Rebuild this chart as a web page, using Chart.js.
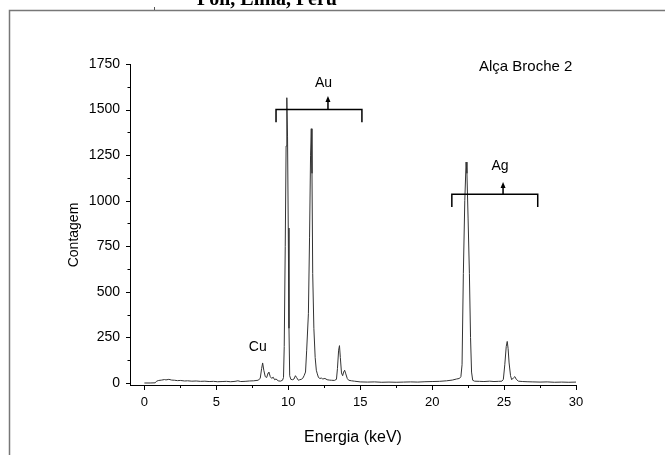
<!DOCTYPE html>
<html>
<head>
<meta charset="utf-8">
<script src="https://cdn.jsdelivr.net/npm/chart.js@4.4.1/dist/chart.umd.min.js"></script>
<style>
  html, body { margin: 0; padding: 0; background: #fff; }
  #wrap { width: 665px; height: 455px; position: relative; }
</style>
</head>
<body>
<div id="wrap"><canvas id="spectrum" width="665" height="455"></canvas></div>
<script>
// Spectrum: energy (keV) and counts
const energy = [
  0.0, 0.4, 0.75, 0.85, 1.0, 1.2, 1.4, 1.5, 1.7, 1.9, 2.1, 2.3, 2.5, 2.8, 3.0, 3.3, 3.6, 3.9, 4.2, 4.5,
  4.8, 5.1, 5.4, 5.7, 6.0, 6.3, 6.5, 6.7, 7.0, 7.3, 7.6, 7.9, 8.05, 8.15, 8.22, 8.3, 8.4, 8.5, 8.6, 8.65,
  8.75, 8.85, 8.95, 9.05, 9.15, 9.3, 9.45, 9.6, 9.67, 9.72, 9.79, 9.85, 9.9, 9.95, 10.0, 10.05, 10.1, 10.18,
  10.3, 10.4, 10.5, 10.58, 10.7, 10.8, 10.9, 11.0, 11.1, 11.2, 11.28, 11.4, 11.48, 11.55, 11.6, 11.65, 11.7,
  11.78, 11.87, 11.95, 12.02, 12.1, 12.2, 12.3, 12.4, 12.55, 12.7, 12.85, 13.0, 13.2, 13.35, 13.42, 13.5,
  13.56, 13.62, 13.7, 13.78, 13.85, 13.92, 14.0, 14.1, 14.2, 14.4, 14.6, 15.0, 15.5, 16.0, 16.5, 17.0, 17.5,
  18.0, 18.5, 19.0, 19.5, 20.0, 20.5, 21.0, 21.4, 21.7, 21.9, 22.0, 22.08, 22.17, 22.27, 22.36, 22.42, 22.5,
  22.59, 22.67, 22.74, 22.82, 22.95, 23.3, 23.6, 24.0, 24.3, 24.6, 24.85, 24.95, 25.05, 25.15, 25.22, 25.28,
  25.35, 25.45, 25.53, 25.65, 25.75, 25.85, 26.0, 26.3, 26.6, 27.0, 27.5, 28.0, 28.5, 29.0, 29.5, 30.0
];
const counts = [
  0, 0, 1, 10, 14, 16, 19, 17, 20, 16, 15, 13, 14, 11, 12, 10, 11, 9, 10, 8,
  9, 7, 8, 9, 7, 9, 12, 8, 9, 11, 12, 15, 25, 80, 110, 70, 35, 30, 55, 60,
  35, 25, 32, 18, 22, 12, 10, 15, 30, 200, 750, 1300, 1565, 1350, 850, 300, 40, 20,
  18, 22, 40, 30, 15, 18, 20, 25, 40, 60, 180, 380, 800, 1250, 1395, 1150, 600,
  300, 140, 70, 50, 30, 25, 27, 22, 25, 18, 16, 15, 14, 20, 80, 180,
  205, 140, 55, 40, 60, 70, 50, 25, 15, 12, 10, 6, 5, 6, 4, 5, 4,
  5, 6, 5, 7, 8, 9, 12, 16, 22, 25, 35, 100, 600, 1000, 1212, 1150, 900,
  600, 250, 60, 15, 10, 9, 8, 10, 8, 9, 10, 20, 100, 200, 228, 190,
  110, 40, 18, 28, 35, 20, 10, 8, 7, 6, 5, 6, 4, 5, 4, 5
];
const xTickValues = [0, 2.5, 5, 7.5, 10, 12.5, 15, 17.5, 20, 22.5, 25, 27.5, 30];
const yTickValues = [0, 125, 250, 375, 500, 625, 750, 875, 1000, 1125, 1250, 1375, 1500, 1625, 1750];

// tick marks: long for labelled, short for minor
const tickMarks = {
  id: 'tickMarks',
  afterDraw(chart) {
    const { ctx, scales: { x, y } } = chart;
    ctx.save();
    ctx.strokeStyle = '#000';
    ctx.lineWidth = 1;
    ctx.beginPath();
    xTickValues.forEach((v) => {
      const px = Math.round(x.getPixelForValue(v)) + 0.5;
      const len = v % 5 === 0 ? 5 : 3;
      ctx.moveTo(px, x.top);
      ctx.lineTo(px, x.top + len);
    });
    yTickValues.forEach((v) => {
      const py = Math.round(y.getPixelForValue(v)) + 0.5;
      const len = v % 250 === 0 ? 4 : 2.5;
      ctx.moveTo(y.right, py);
      ctx.lineTo(y.right - len, py);
    });
    ctx.stroke();
    ctx.restore();
  }
};

// peak labels, brackets, frame and the cut title
const decorations = {
  id: 'decorations',
  afterDraw(chart) {
    const { ctx, scales: { x, y } } = chart;
    const X = (v) => x.getPixelForValue(v);
    const Y = (v) => y.getPixelForValue(v);
    ctx.save();

    // page frame
    ctx.strokeStyle = '#777';
    ctx.lineWidth = 1.5;
    ctx.beginPath();
    ctx.moveTo(9.5, 455);
    ctx.lineTo(9.5, 10.5);
    ctx.lineTo(665, 10.5);
    ctx.stroke();
    ctx.fillStyle = '#555';
    ctx.fillRect(154, 7, 1, 3);

    ctx.fillStyle = '#000';
    ctx.font = 'bold 20px "Liberation Serif", serif';
    ctx.textAlign = 'center';
    ctx.textBaseline = 'alphabetic';
    ctx.fillText('Poli, Lima, Peru', 267, 5);

    // brackets with arrows
    ctx.strokeStyle = '#000';
    ctx.lineWidth = 1.5;
    const bracket = (x0, x1, yb, yEnd, xa, ya) => {
      ctx.beginPath();
      ctx.moveTo(X(x0), Y(yEnd));
      ctx.lineTo(X(x0), Y(yb));
      ctx.lineTo(X(x1), Y(yb));
      ctx.lineTo(X(x1), Y(yEnd));
      ctx.moveTo(X(xa), Y(yb));
      ctx.lineTo(X(xa), Y(ya) + 4);
      ctx.stroke();
      ctx.beginPath();
      ctx.moveTo(X(xa), Y(ya));
      ctx.lineTo(X(xa) - 2.5, Y(ya) + 6);
      ctx.lineTo(X(xa) + 2.5, Y(ya) + 6);
      ctx.closePath();
      ctx.fill();
    };
    bracket(9.15, 15.12, 1500, 1430, 12.76, 1574);
    bracket(21.37, 27.34, 1035, 965, 24.93, 1103);

    ctx.font = '14px "Liberation Sans", Arial, sans-serif';
    ctx.textAlign = 'center';
    ctx.fillText('Au', X(12.45), Y(1624));
    ctx.fillText('Ag', X(24.72), Y(1168));
    ctx.fillText('Cu', X(7.88), Y(175));
    ctx.font = '15px "Liberation Sans", Arial, sans-serif';
    ctx.fillText('Alça Broche 2', X(26.5), Y(1711));

    // y axis title
    ctx.font = '14px "Liberation Sans", Arial, sans-serif';
    ctx.translate(74, 235);
    ctx.rotate(-Math.PI / 2);
    ctx.textBaseline = 'middle';
    ctx.fillText('Contagem', 0, 0);
    ctx.restore();
  }
};

const ctx = document.getElementById('spectrum').getContext('2d');
new Chart(ctx, {
  type: 'line',
  data: {
    datasets: [
      {
        data: energy.map((e, i) => ({ x: e, y: counts[i] })),
        borderColor: '#333',
        borderWidth: 1,
        pointRadius: 0,
        tension: 0,
        fill: false,
      },
    ],
  },
  options: {
    responsive: false,
    animation: false,
    events: [],
    layout: { padding: { left: 0, top: 64, right: 89, bottom: 0 } },
    plugins: { legend: { display: false }, tooltip: { enabled: false } },
    scales: {
      x: {
        type: 'linear',
        min: -1,
        max: 30,
        afterBuildTicks: (scale) => {
          scale.ticks = xTickValues.map((v) => ({ value: v }));
        },
        afterFit: (scale) => { scale.height = 70; },
        grid: { display: true, drawOnChartArea: false, drawTicks: false },
        border: { display: true, color: '#000', width: 1 },
        ticks: {
          autoSkip: false,
          maxRotation: 0,
          padding: 10,
          color: '#000',
          font: { family: '"Liberation Sans", Arial, sans-serif', size: 13 },
          callback: (v) => (v % 5 === 0 ? String(v) : ''),
        },
        title: {
          display: true,
          text: 'Energia (keV)',
          color: '#000',
          font: { family: '"Liberation Sans", Arial, sans-serif', size: 16 },
          padding: { top: 0, bottom: 8 },
        },
      },
      y: {
        type: 'linear',
        min: -11,
        max: 1750,
        afterBuildTicks: (scale) => {
          scale.ticks = yTickValues.map((v) => ({ value: v }));
        },
        afterFit: (scale) => { scale.width = 130; },
        grid: { display: true, drawOnChartArea: false, drawTicks: false },
        border: { display: true, color: '#000', width: 1 },
        ticks: {
          autoSkip: false,
          padding: 10,
          color: '#000',
          font: { family: '"Liberation Sans", Arial, sans-serif', size: 14 },
          callback: (v) => (v % 250 === 0 ? String(v) : ''),
        },
      },
    },
  },
  plugins: [tickMarks, decorations],
});
</script>
</body>
</html>
